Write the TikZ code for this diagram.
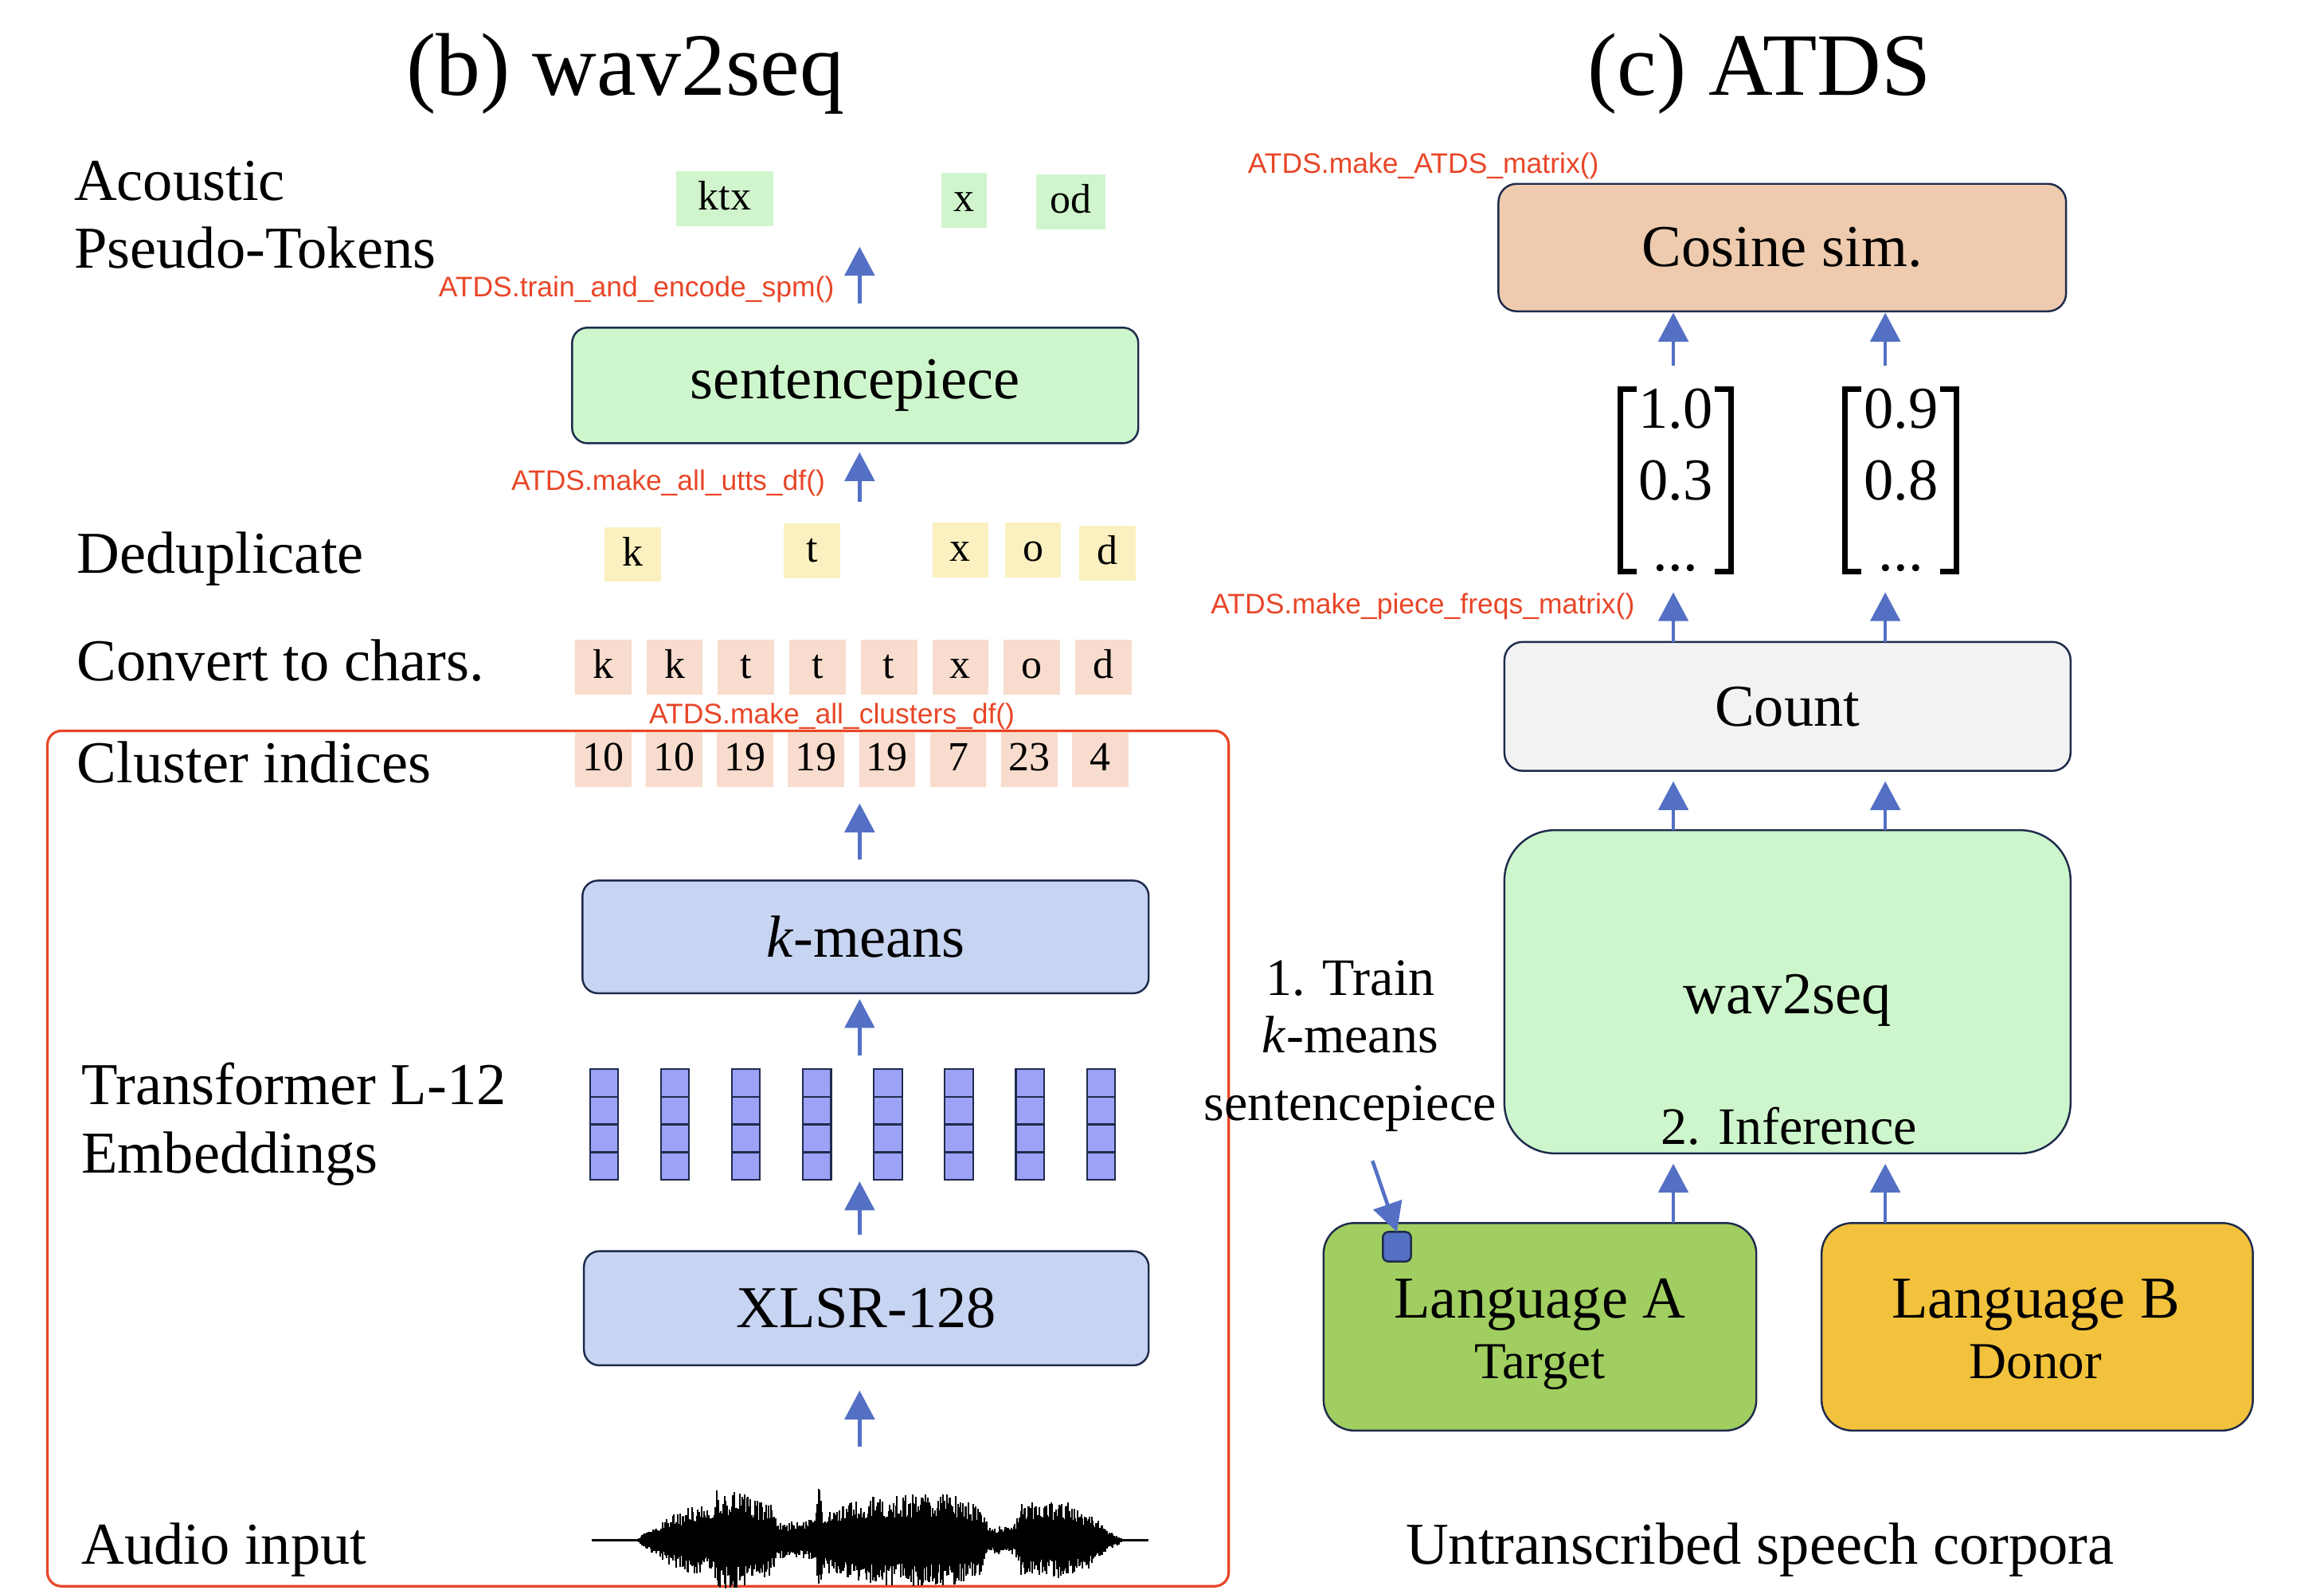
\documentclass[tikz,border=0pt]{standalone}
\usepackage{fontspec}
\setmainfont{Liberation Serif}
\newfontfamily\codefont{Liberation Sans}
\usetikzlibrary{arrows.meta, positioning, calc}

\definecolor{arrowblue}{RGB}{84,112,196}
\definecolor{boxline}{RGB}{31,43,77}
\definecolor{codered}{RGB}{232,70,40}
\definecolor{spgreen}{RGB}{206,246,204}
\definecolor{kmblue}{RGB}{199,212,242}
\definecolor{cosorange}{RGB}{238,203,174}
\definecolor{countgray}{RGB}{242,242,242}
\definecolor{langgreen}{RGB}{160,206,96}
\definecolor{langyellow}{RGB}{242,194,60}
\definecolor{tokgreen}{RGB}{208,245,205}
\definecolor{tokyellow}{RGB}{251,241,192}
\definecolor{toksalmon}{RGB}{248,220,205}
\definecolor{embfill}{RGB}{156,163,247}

\newcommand{\pxu}{0.5295pt}

\begin{document}
\begin{tikzpicture}[x=\pxu, y=-\pxu,
    every node/.style={inner sep=0pt, outer sep=0pt},
    title/.style={font=\fontsize{31.8}{36}\selectfont},
    lbl/.style={font=\fontsize{21.2}{24.4}\selectfont, align=left},
    small/.style={font=\fontsize{18.8}{20.6}\selectfont, align=center},
    code/.style={font=\codefont\fontsize{10.1}{12}\selectfont, text=codered},
    block/.style={draw=boxline, line width=0.7pt, rounded corners=5.5pt, font=\fontsize{21.2}{24.4}\selectfont},
    tok/.style={font=\fontsize{14.8}{17}\selectfont, minimum width=38*\pxu, minimum height=37*\pxu, text height=0.8em, text depth=0pt},
    cell/.style={draw=boxline, line width=0.6pt, fill=embfill, minimum width=19*\pxu, minimum height=18.75*\pxu},
    brk/.style={line width=2pt},
    arr/.style={draw=arrowblue, line width=1.3pt, -{Triangle[length=10.3pt, width=10.6pt]}}
  ]
  \useasboundingbox (0,0) rectangle (1568,1075);

  % Titles
  \node[title, anchor=base] (titleb) at (422,64) {(b) wav2seq};
  \node[title, anchor=base] (titlec) at (1187,64) {(c) ATDS};

  % Row labels of the wav2seq side
  \node[lbl, anchor=base west] (lacoustic) at (50,181) {Acoustic\\Pseudo-Tokens};
  \node[lbl, anchor=base west] (ldedup) at (52,386.5) {Deduplicate};
  \node[lbl, anchor=base west] (lchars) at (52,459) {Convert to chars.};
  \node[lbl, anchor=base west] (lclust) at (52,528) {Cluster indices};
  \node[lbl, anchor=base west] (lemb) at (55,791) {Transformer L-12\\Embeddings};
  \node[lbl, anchor=base west] (laudio) at (55,1055) {Audio input};

  % Red frame round the k-means part
  \draw[codered, line width=0.9pt, rounded corners=5pt] (32,493) rectangle (829,1070);

  % Pseudo-tokens
  \node[tok, fill=tokgreen, minimum width=66*\pxu] (p1) at (489,134) {ktx};
  \node[tok, fill=tokgreen, minimum width=31*\pxu] (p2) at (650.5,135) {x};
  \node[tok, fill=tokgreen, minimum width=47*\pxu] (p3) at (722.5,136) {od};

  % Deduplicated characters
  \foreach \t/\x/\y [count=\i] in {k/427/374, t/548/371.5, x/648/371, o/697/371, d/747/373}
    \node[tok, fill=tokyellow] (d\i) at (\x,\y) {\t};

  % Characters and cluster indices
  \foreach \t [count=\i] in {k,k,t,t,t,x,o,d}
    \node[tok, fill=toksalmon] (c\i) at ({407+48.2*(\i-1)},450) {\t};
  \foreach \t [count=\i] in {10,10,19,19,19,7,23,4}
    \node[tok, fill=toksalmon] (n\i) at ({407+47.9*(\i-1)},512.5) {\t};

  % Blocks
  \node[block, fill=spgreen, minimum width=382*\pxu, minimum height=78*\pxu] (spm) at (577,260) {sentencepiece};
  \node[block, fill=kmblue, minimum width=382*\pxu, minimum height=76*\pxu] (kmeans) at (584,632) {\textit{k}-means};
  \node[block, fill=kmblue, minimum width=381*\pxu, minimum height=77*\pxu] (xlsr) at (584.5,882.5) {XLSR-128};

  % Embeddings
  \foreach \i in {1,...,8}
    \foreach \j in {1,...,4}
      \node[cell] (e\i-\j) at ({407.5+47.9*(\i-1)},{721+18.75*(\j-0.5)}) {};

  % Waveform
  \pgfmathsetseed{42}
  \draw[line width=1pt] (399,1039) -- (775,1039);
  \foreach \xa/\xb/\aa/\ab in {431/450/2/16, 450/470/16/24, 470/481/24/20, 481/484/20/34,
      484/500/34/32, 500/520/32/24, 520/526/24/12, 526/550/12/14, 550/553/14/35,
      553/556/35/22, 556/590/22/30, 590/640/30/32, 640/662/32/24, 662/668/24/9,
      668/684/9/10, 684/690/10/26, 690/720/26/26, 720/737/26/18, 737/746/18/8, 746/757/8/2} {
    \pgfmathtruncatemacro{\nseg}{(\xb-\xa)/0.8}
    \foreach \i in {0,...,\nseg} {
      \pgfmathsetmacro{\xx}{\xa+\i*0.8}
      \pgfmathsetmacro{\amp}{\aa+(\ab-\aa)*\i/max(\nseg,1)}
      \pgfmathsetmacro{\up}{\amp*(0.5+0.5*rnd)}
      \pgfmathsetmacro{\dn}{\amp*(0.5+0.5*rnd)}
      \draw[line width=0.6pt] (\xx,1039-\up) -- (\xx,1039+\dn);
    }
  }
  \coordinate (wavetop) at (580,976);

  % Function names
  \node[code, anchor=base west] (fn1) at (296,200) {ATDS.train\_and\_encode\_spm()};
  \node[code, anchor=base west] (fn2) at (345,331) {ATDS.make\_all\_utts\_df()};
  \node[code, anchor=base west] (fn3) at (438,488) {ATDS.make\_all\_clusters\_df()};
  \node[code, anchor=base west] (fn4) at (842,117) {ATDS.make\_ATDS\_matrix()};
  \node[code, anchor=base west] (fn5) at (817,414) {ATDS.make\_piece\_freqs\_matrix()};

  % ATDS side
  \node[block, fill=cosorange, rounded corners=6.5pt, minimum width=383*\pxu, minimum height=86*\pxu] (cos) at (1202.5,167) {Cosine sim.};
  \node[block, fill=countgray, rounded corners=6.5pt, minimum width=382*\pxu, minimum height=87*\pxu] (count) at (1206,476.5) {Count};
  \node[block, fill=spgreen, rounded corners=18pt, minimum width=382*\pxu, minimum height=218*\pxu] (wav) at (1206,669) {};
  \node[lbl, anchor=base] (wavname) at (1206,684) {wav2seq};
  \node[small, anchor=base] (infer) at (1207,772) {2. Inference};

  \node[small, anchor=base] (trainlbl) at (911,756) {1. Train\\\textit{k}-means\\[3.7pt]sentencepiece};
  \coordinate (trs) at (926,783);

  \node[block, fill=langgreen, rounded corners=11pt, minimum width=292*\pxu, minimum height=140*\pxu] (langA) at (1039,895) {};
  \node[block, fill=langyellow, rounded corners=11pt, minimum width=291*\pxu, minimum height=140*\pxu] (langB) at (1374.5,895) {};
  \node[lbl, anchor=base, align=center] (langAt) at (1039,930) {Language A\\[-2.7pt]{\fontsize{18.5}{21}\selectfont Target}};
  \node[lbl, anchor=base, align=center] (langBt) at (1373.5,930) {Language B\\[-2.7pt]{\fontsize{18.5}{21}\selectfont Donor}};
  \node[draw=boxline, line width=0.7pt, fill=arrowblue, rounded corners=2pt, minimum width=19*\pxu, minimum height=20*\pxu] (sq) at (942.5,841) {};

  \node[lbl, anchor=base] (corpora) at (1187.5,1055) {Untranscribed speech corpora};

  % Frequency vectors
  \node[lbl, align=center, minimum width=75*\pxu, minimum height=120*\pxu] (m1) at (1130.5,324) {1.0\\[1pt]0.3\\[1pt]...};
  \node[lbl, align=center, minimum width=75*\pxu, minimum height=120*\pxu] (m2) at (1282.5,324) {0.9\\[1pt]0.8\\[1pt]...};
  \foreach \m in {m1,m2} {
    \draw[brk] ([xshift=11*\pxu]\m.north west) -- (\m.north west) -- (\m.south west) -- ++(11,0);
    \draw[brk] ([xshift=-11*\pxu]\m.north east) -- (\m.north east) -- (\m.south east) -- ++(-11,0);
  }

  % Arrows
  \coordinate (colL) at (580,0);
  \coordinate (colA) at (1129,0);
  \coordinate (colB) at (1272,0);

  \draw[arr, shorten <=8.5pt, shorten >=7.4pt] (spm.north -| colL) -- (p1.south -| colL);
  \draw[arr, shorten <=7.7pt, shorten >=3.2pt] (d2.north -| colL) -- (spm.south -| colL);
  \draw[arr, shorten <=7.4pt, shorten >=5.8pt] (kmeans.north -| colL) -- (n1.south -| colL);
  \draw[arr, shorten <=4.8pt, shorten >=2.1pt] (e1-1.north -| colL) -- (kmeans.south -| colL);
  \draw[arr, shorten <=5.8pt, shorten >=0.5pt] (xlsr.north -| colL) -- (e1-4.south -| colL);
  \draw[arr, shorten >=9pt] (wavetop) -- (xlsr.south -| colL);

  \foreach \m/\c in {m1/colA, m2/colB} {
    \draw[arr, shorten <=8.5pt, shorten >=0.5pt] (\m.north -| \c) -- (cos.south -| \c);
    \draw[arr, shorten >=7.4pt] (count.north -| \c) -- (\m.south -| \c);
    \draw[arr, shorten >=3.7pt] (wav.north -| \c) -- (count.south -| \c);
  }
  \draw[arr, shorten >=3.7pt] (langA.north -| colA) -- (wav.south -| colA);
  \draw[arr, shorten >=3.7pt] (langB.north -| colB) -- (wav.south -| colB);
  \draw[arr] (trs) -- (sq.north);
\end{tikzpicture}
\end{document}
